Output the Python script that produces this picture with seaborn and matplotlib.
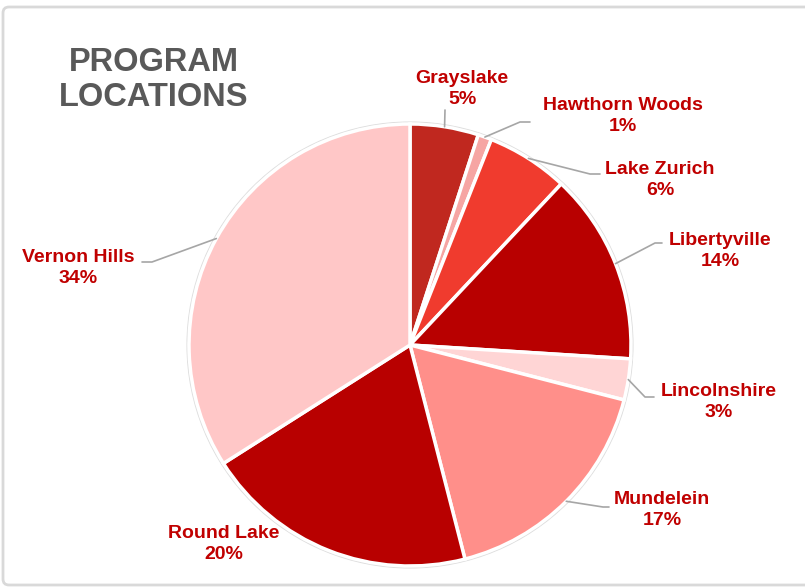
import numpy as np
import matplotlib
matplotlib.use("Agg")
import matplotlib.pyplot as plt
from matplotlib.patches import FancyBboxPatch, Circle
import seaborn as sns

# ---- data ----
locations = ["Grayslake", "Hawthorn Woods", "Lake Zurich", "Libertyville",
             "Lincolnshire", "Mundelein", "Round Lake", "Vernon Hills"]
shares = [5, 1, 6, 14, 3, 17, 20, 34]
colors = ["#C0281F", "#F6A5A3", "#F03B2E", "#B80000",
          "#FFD5D5", "#FF8F8A", "#B80000", "#FFC7C7"]

sns.set_theme(style="white")
plt.rcParams['font.family'] = ['Liberation Sans', 'DejaVu Sans']

W, H = 805, 588
fig = plt.figure(figsize=(W / 100, H / 100), dpi=100)
ax = fig.add_axes([0, 0, 1, 1])

def Y(y):
    return H - y

# frame
frame = FancyBboxPatch((3, 3), W + 10, H - 10, boxstyle="round,pad=0,rounding_size=6",
                       fc="white", ec="#D9D9D9", lw=2, zorder=0)
ax.add_patch(frame)

cx, cy, R = 410, 345, 221
ax.add_patch(Circle((cx, Y(cy)), R + 1.5, fc="none", ec="#DDDDDD", lw=1.5, zorder=1))
explode = [0, 0, 0, 0, 0.02, 0, 0, 0]
wedges, _ = ax.pie(shares, colors=colors, startangle=90, counterclock=False,
                   center=(cx, Y(cy)), radius=R, explode=explode,
                   wedgeprops=dict(edgecolor="white", linewidth=2.5), frame=True)
for w in wedges:
    w.set_zorder(2)
ax.set_xlim(0, W)
ax.set_ylim(0, H)
ax.set_aspect('equal')
ax.axis('off')

# title
ax.text(154, Y(80), "PROGRAM\nLOCATIONS", ha="center", va="center",
        fontsize=23.5, fontweight="bold", color="#595959", linespacing=1.2)

# labels: (text center x, y) and leader points from label towards pie
label_pos = {
    "Grayslake": ((462, 89), [(445, 110)]),
    "Hawthorn Woods": ((623, 116), [(530, 122), (520, 122)]),
    "Lake Zurich": ((660, 180), [(600, 174), (590, 174)]),
    "Libertyville": ((720, 251), [(662, 243), (655, 243)]),
    "Lincolnshire": ((719, 402), [(654, 397), (645, 397)]),
    "Mundelein": ((662, 510), [(609, 507), (603, 507)]),
    "Round Lake": ((224, 544), []),
    "Vernon Hills": ((78, 268), [(142, 262), (152, 262)]),
}

for w, name, s in zip(wedges, locations, shares):
    (tx, ty), pts = label_pos[name]
    ax.text(tx, Y(ty), f"{name}\n{s}%", ha="center", va="center",
            fontsize=14, fontweight="bold", color="#C00000", linespacing=1.35)
    if pts:
        ang = np.deg2rad((w.theta1 + w.theta2) / 2)
        ex = w.center[0] + R * np.cos(ang)
        ey = w.center[1] + R * np.sin(ang)
        xs = [p[0] for p in pts] + [ex]
        ys = [Y(p[1]) for p in pts] + [ey]
        ax.plot(xs, ys, color="#A6A6A6", lw=1.2, zorder=3)

fig.savefig("out.png", dpi=100)
